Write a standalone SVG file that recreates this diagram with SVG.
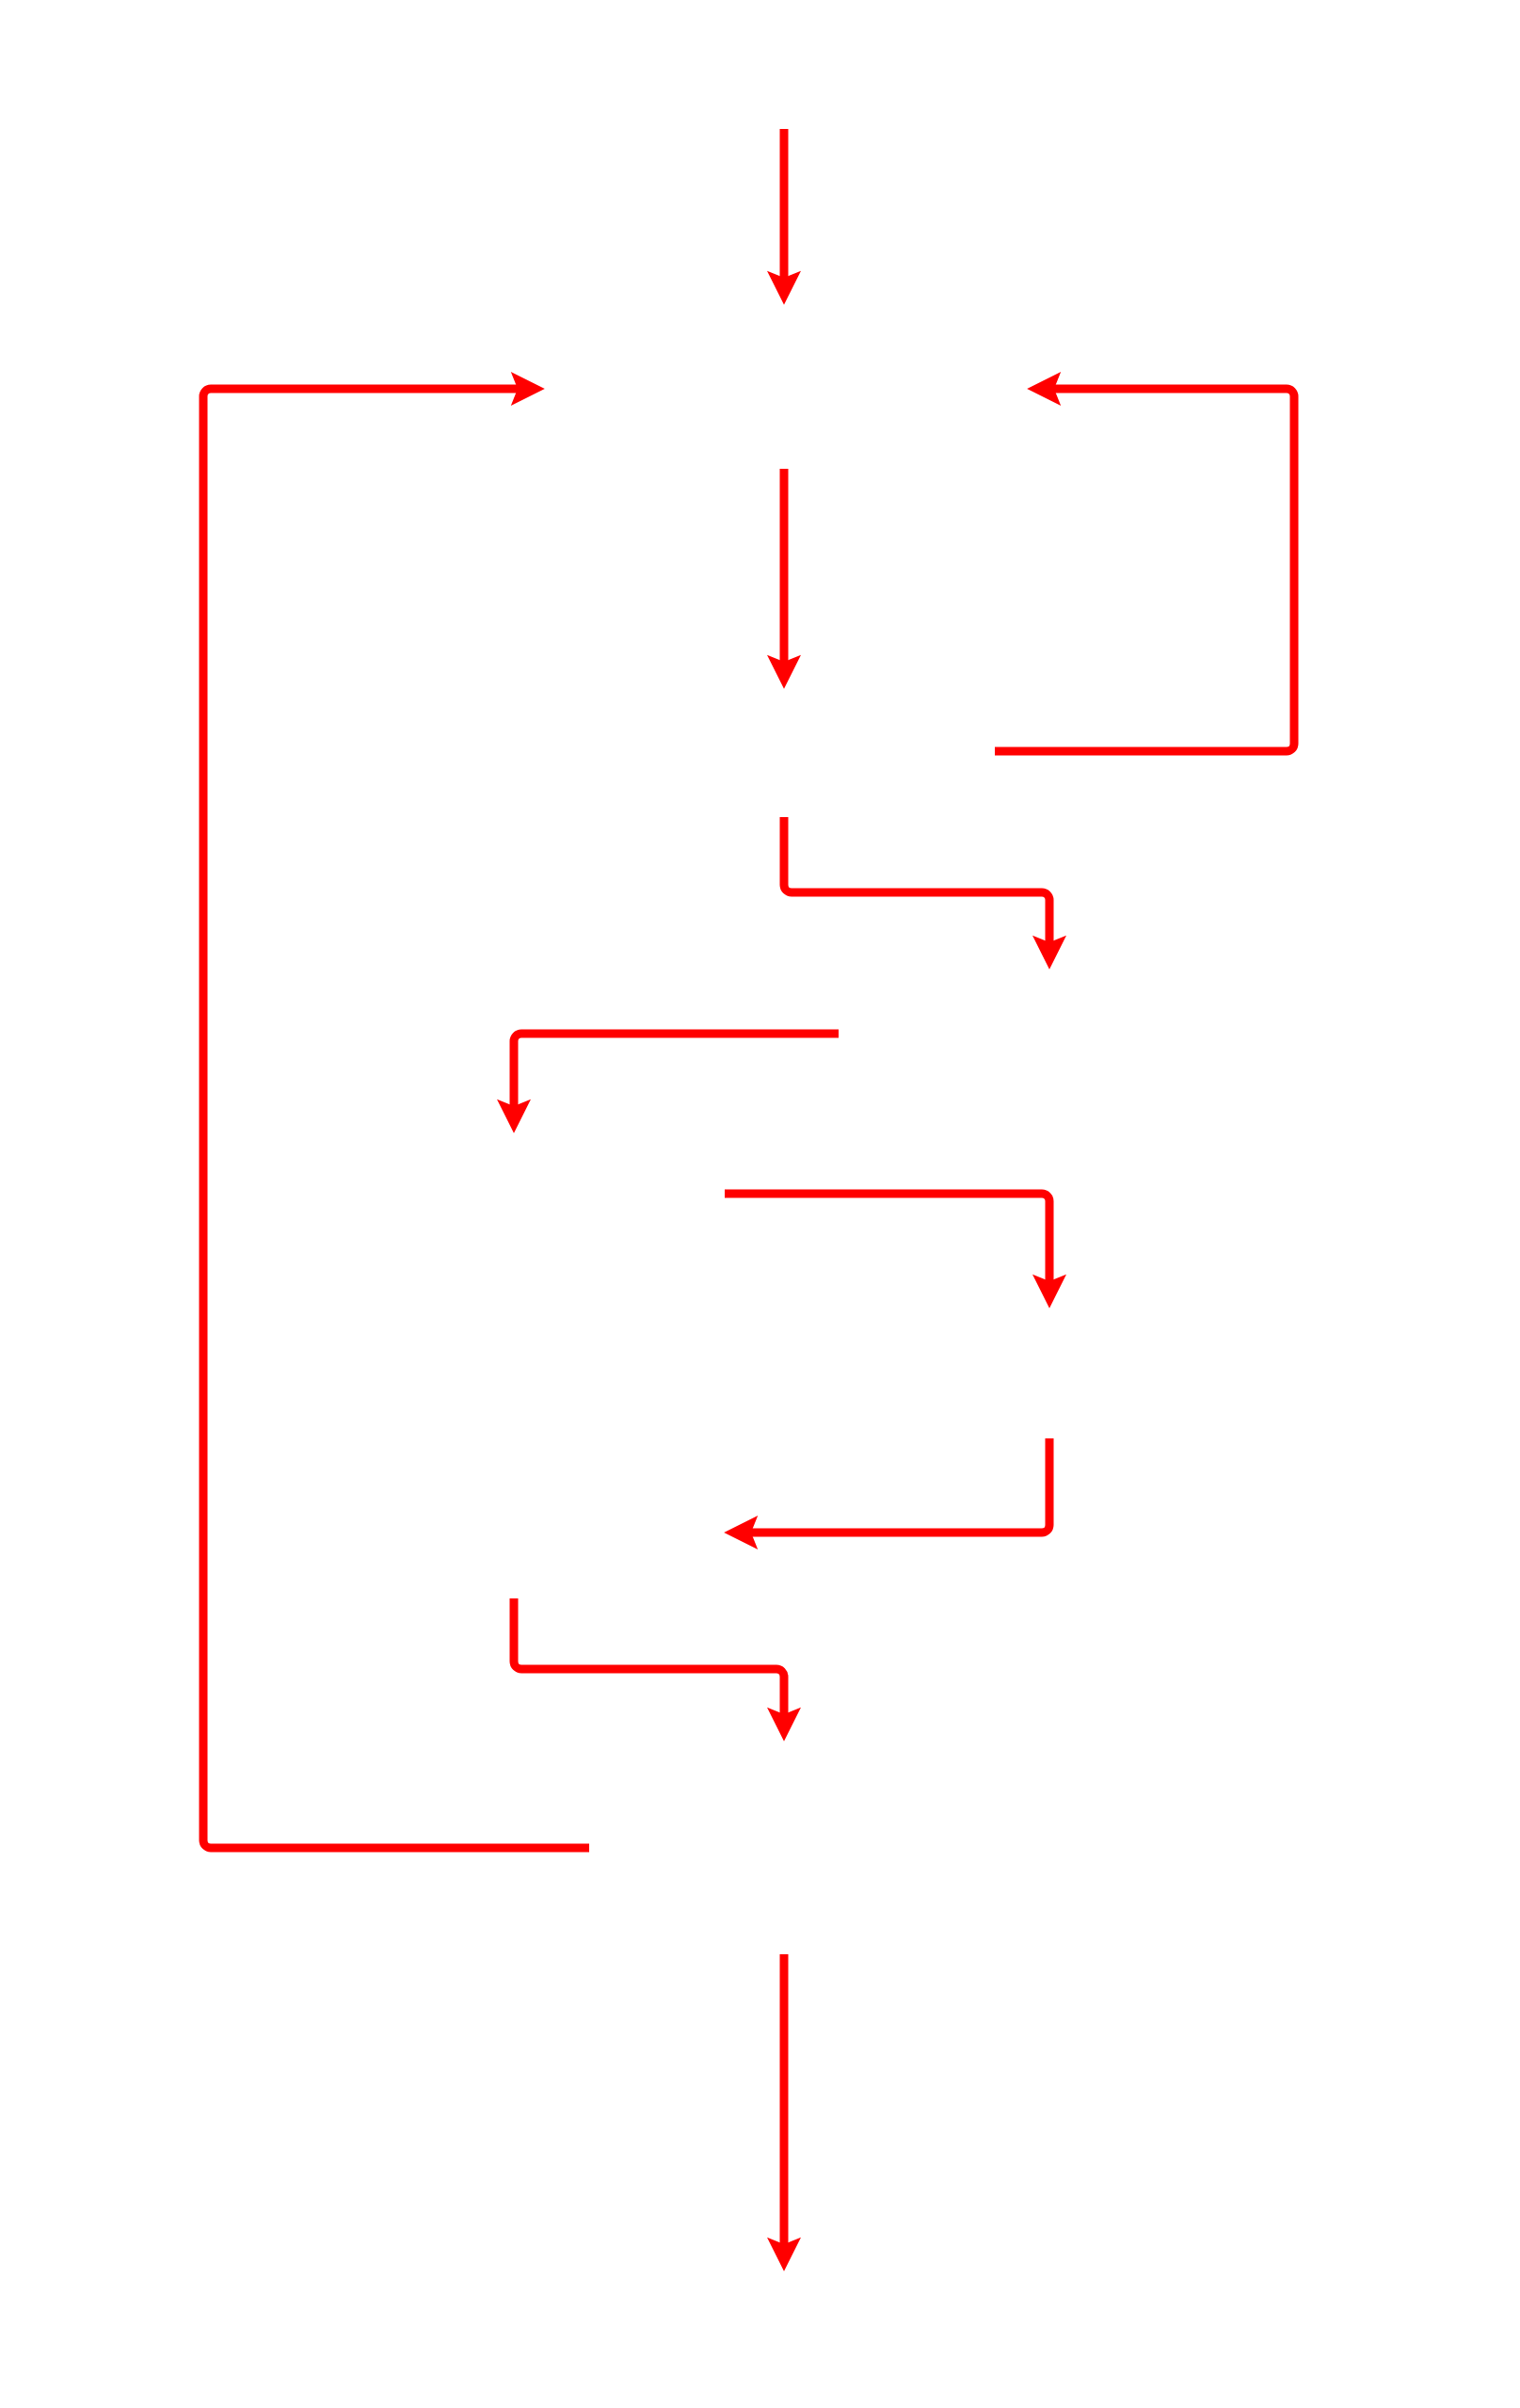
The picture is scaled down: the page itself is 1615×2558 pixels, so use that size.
<svg xmlns="http://www.w3.org/2000/svg" width="1615" height="2558" viewBox="0 0 1615 2558">
  <style>
    .edge { fill: none; stroke: #ff0000; stroke-width: 9px; stroke-linejoin: round; marker-end: url(#arrow); }
  </style>
  <defs>
    <!-- Filled arrowhead with a shallow notch; the path ends at the notch -->
    <marker id="arrow" markerUnits="userSpaceOnUse" markerWidth="36" markerHeight="36" viewBox="0 0 35 35" refX="7" refY="17.5" orient="auto" overflow="visible">
      <path d="M0,0 L35,17.5 L0,35 L7,17.5 Z" fill="#ff0000"/>
    </marker>
  </defs>
  <rect x="0" y="0" width="1615" height="2558" fill="#ffffff"/>

  <g id="connectors" stroke-width="9">
    <!-- entry into the top step -->
    <path id="e1" class="edge" d="M833,137 V295"/>
    <!-- long feedback loop on the left -->
    <path id="e2" class="edge" d="M626,1963 H224 A8,8 0 0 1 216,1955 V421 A8,8 0 0 1 224,413 H550"/>
    <!-- short feedback loop on the right -->
    <path id="e3" class="edge" d="M1057,798 H1367 A8,8 0 0 0 1375,790 V421 A8,8 0 0 0 1367,413 H1120"/>
    <!-- centre column -->
    <path id="e4" class="edge" d="M833,498 V703"/>
    <path id="e5" class="edge" d="M833,868 V940 A8,8 0 0 0 841,948 H1107 A8,8 0 0 1 1115,956 V1001"/>
    <path id="e6" class="edge" d="M891,1098 H554 A8,8 0 0 0 546,1106 V1175"/>
    <path id="e7" class="edge" d="M770,1268 H1107 A8,8 0 0 1 1115,1276 V1361"/>
    <path id="e8" class="edge" d="M1115,1528 V1620 A8,8 0 0 1 1107,1628 H798"/>
    <path id="e9" class="edge" d="M546,1698 V1765 A8,8 0 0 0 554,1773 H825 A8,8 0 0 1 833,1781 V1821"/>
    <!-- exit from the last step -->
    <path id="e10" class="edge" d="M833,2076 V2384"/>
  </g>
</svg>
